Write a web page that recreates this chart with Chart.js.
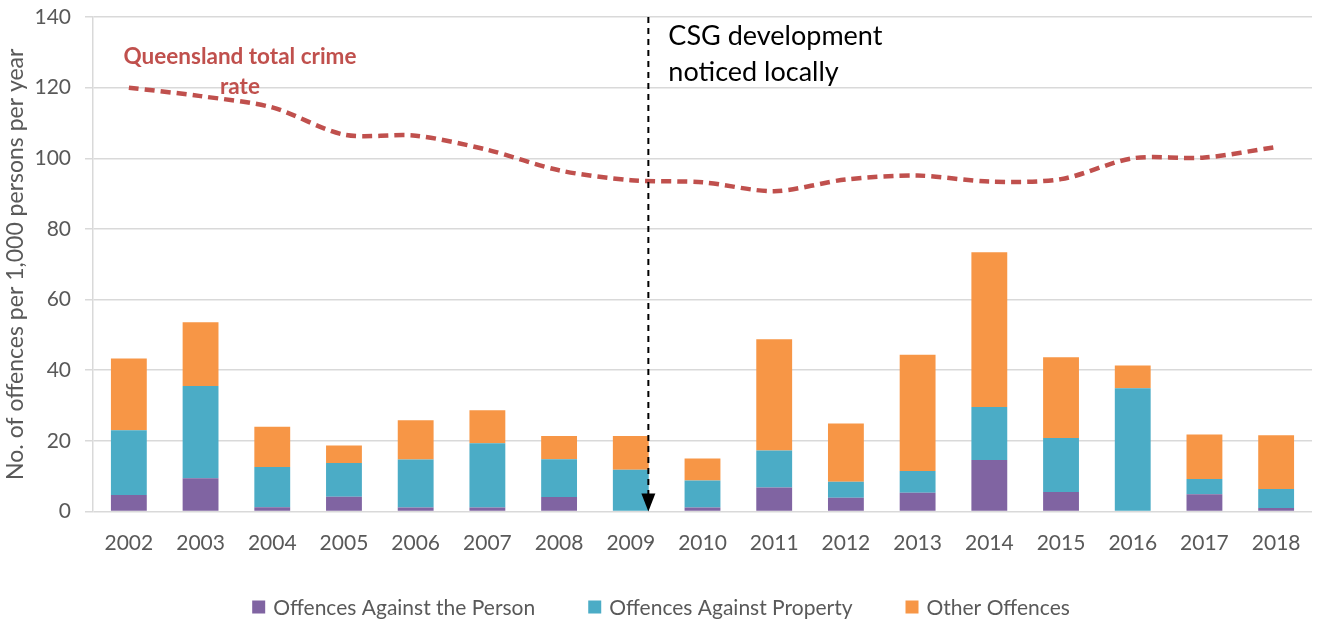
<!DOCTYPE html>
<html>
<head>
<meta charset="utf-8">
<script src="https://cdn.jsdelivr.net/npm/chart.js@4.4.1/dist/chart.umd.min.js"></script>
<style>
  html, body { margin: 0; padding: 0; background: #fff; }
  #wrap { width: 1317px; height: 624px; position: relative; }
</style>
</head>
<body>
<div id="wrap"><canvas id="c" width="1317" height="624"></canvas></div>
<script>
const years = ['2002','2003','2004','2005','2006','2007','2008','2009','2010','2011','2012','2013','2014','2015','2016','2017','2018'];
const againstPerson   = [4.7, 9.4, 1.2, 4.2, 1.1, 1.1, 4.1, 0.0, 1.1, 6.8, 3.9, 5.3, 14.6, 5.5, 0.0, 4.9, 1.0];
const againstProperty = [18.3, 26.1, 11.4, 9.5, 13.6, 18.2, 10.7, 11.8, 7.7, 10.5, 4.5, 6.2, 15.0, 15.3, 34.9, 4.3, 5.4];
const otherOffences   = [20.3, 18.1, 11.4, 5.0, 11.1, 9.4, 6.6, 9.6, 6.2, 31.5, 16.5, 32.9, 43.8, 22.9, 6.4, 12.6, 15.2];
const qldTotalRate    = [120.0, 117.6, 114.4, 106.7, 106.4, 102.4, 96.6, 93.8, 93.2, 90.7, 94.0, 95.1, 93.4, 94.1, 100.0, 100.2, 103.2];
const yAxisTicks = [0, 20, 40, 60, 80, 100, 120, 140];
const csgYearIndex = 7;

const FONT = 'Lato, "Liberation Sans", sans-serif';
const GREY = '#595959';

const annotations = {
  id: 'annotations',
  afterDatasetsDraw(chart) {
    const ctx = chart.ctx;
    const x = chart.scales.x, y = chart.scales.y;
    const step = x.getPixelForValue(1) - x.getPixelForValue(0);
    const lx = x.getPixelForValue(csgYearIndex) + step * 0.245;
    const top = y.getPixelForValue(140);
    const bot = y.getPixelForValue(0);
    ctx.save();
    ctx.strokeStyle = '#000';
    ctx.lineWidth = 2;
    ctx.setLineDash([6, 5]);
    ctx.beginPath();
    ctx.moveTo(lx, top);
    ctx.lineTo(lx, bot - 16);
    ctx.stroke();
    ctx.setLineDash([]);
    ctx.fillStyle = '#000';
    ctx.beginPath();
    ctx.moveTo(lx - 7, bot - 18);
    ctx.lineTo(lx + 7, bot - 18);
    ctx.lineTo(lx, bot);
    ctx.closePath();
    ctx.fill();

    ctx.font = '27px ' + FONT;
    ctx.textAlign = 'left';
    ctx.textBaseline = 'middle';
    ctx.fillText('CSG development', lx + 20, 36);
    ctx.fillText('noticed locally', lx + 20, 72);

    ctx.font = 'bold 22.5px ' + FONT;
    ctx.fillStyle = '#c0504d';
    ctx.textAlign = 'center';
    ctx.fillText('Queensland total crime', 240, 57);
    ctx.fillText('rate', 240, 87);
    ctx.restore();
  }
};

const customLegend = {
  id: 'customLegend',
  afterDraw(chart) {
    const ctx = chart.ctx;
    const items = chart.data.datasets.filter(d => d.type !== 'line');
    ctx.save();
    ctx.font = '21px ' + FONT;
    ctx.textBaseline = 'middle';
    ctx.textAlign = 'left';
    const box = 13, gapText = 8, gapItem = 53;
    let total = 0;
    items.forEach(d => { total += box + gapText + ctx.measureText(d.label).width; });
    total += gapItem * (items.length - 1);
    let cx = 661 - total / 2;
    const cy = 607;
    items.forEach(d => {
      ctx.fillStyle = d.backgroundColor;
      ctx.fillRect(cx, cy - box / 2, box, box);
      cx += box + gapText;
      ctx.fillStyle = GREY;
      ctx.fillText(d.label, cx, cy + 1);
      cx += ctx.measureText(d.label).width + gapItem;
    });
    ctx.restore();
  }
};

new Chart(document.getElementById('c'), {
  data: {
    labels: years,
    datasets: [
      { type: 'line', label: 'Queensland total crime rate', data: qldTotalRate, stack: 'line',
        borderColor: '#c0504d', backgroundColor: '#c0504d', borderWidth: 4.5, borderDash: [10, 6],
        pointRadius: 0, tension: 0.3, fill: false, order: 0 },
      { type: 'bar', label: 'Offences Against the Person', data: againstPerson, stack: 's',
        backgroundColor: '#8064a2', order: 1, barPercentage: 0.5, categoryPercentage: 1 },
      { type: 'bar', label: 'Offences Against Property', data: againstProperty, stack: 's',
        backgroundColor: '#4bacc6', order: 1, barPercentage: 0.5, categoryPercentage: 1 },
      { type: 'bar', label: 'Other Offences', data: otherOffences, stack: 's',
        backgroundColor: '#f79646', order: 1, barPercentage: 0.5, categoryPercentage: 1 }
    ]
  },
  options: {
    responsive: false,
    animation: false,
    layout: { padding: { top: 17, right: 5, bottom: 0, left: 0 } },
    plugins: { legend: { display: false }, tooltip: { enabled: false } },
    scales: {
      x: {
        stacked: true,
        grid: { display: false },
        border: { display: false },
        ticks: { color: GREY, font: { family: FONT, size: 21 }, padding: 11, maxRotation: 0 },
        afterFit(s) { s.height = 112.5; s.paddingLeft = 0; s.paddingRight = 0; }
      },
      y: {
        stacked: true,
        min: 0, max: 140,
        afterBuildTicks(s) { s.ticks = yAxisTicks.map(v => ({ value: v })); },
        grid: { color: '#d9d9d9', lineWidth: 1.5, tickLength: 8 },
        border: { display: true, color: '#d9d9d9', width: 1.5 },
        ticks: { color: GREY, font: { family: FONT, size: 21 }, padding: 14 },
        title: { display: true, text: 'No. of offences per 1,000 persons per year', color: GREY,
                 font: { family: FONT, size: 23 }, padding: { top: 2, bottom: 0 } },
        afterFit(s) { s.width = 93; s.paddingTop = 0; s.paddingBottom = 0; }
      }
    }
  },
  plugins: [annotations, customLegend]
});
</script>
</body>
</html>
